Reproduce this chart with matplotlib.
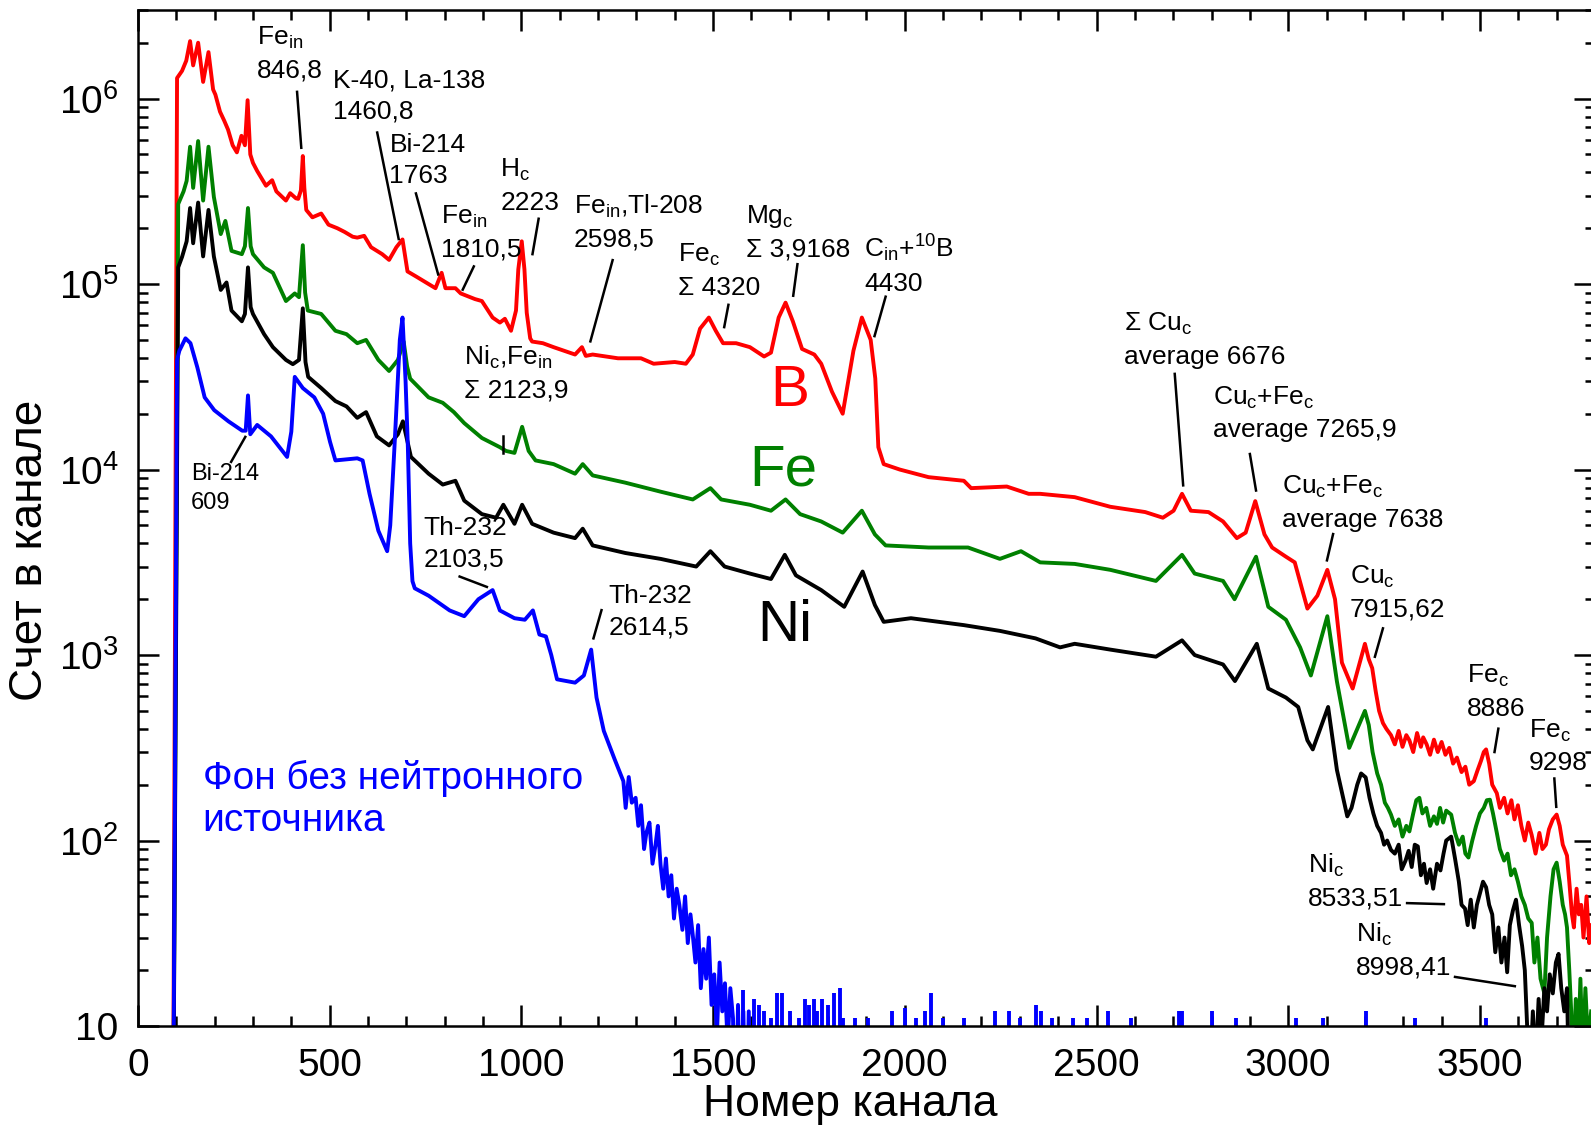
import numpy as np
import matplotlib
matplotlib.use("Agg")
import matplotlib.pyplot as plt
from matplotlib.ticker import MultipleLocator, FuncFormatter, NullFormatter, LogLocator

plt.rcParams['font.family'] = ['Liberation Sans', 'DejaVu Sans']
plt.rcParams['mathtext.fontset'] = 'custom'
plt.rcParams['mathtext.rm'] = 'Liberation Sans'
plt.rcParams['mathtext.it'] = 'Liberation Sans:italic'
plt.rcParams['mathtext.bf'] = 'Liberation Sans:bold'

# spectrum with boron sample (red)
ch_B = [91, 102, 115, 126, 136, 144, 157, 170, 184, 196, 202, 214, 225, 235, 247, 258, 270, 279, 286, 293,
        300, 311, 334, 350, 361, 386, 397, 412, 418, 425, 430, 434, 439, 455, 478, 497, 520, 539, 560, 572,
        590, 608, 637, 655, 674, 690, 703, 725, 758, 776, 792, 802, 828, 842, 860, 879, 897, 925, 944, 957,
        973, 986, 992, 1001, 1008, 1014, 1023, 1028, 1056, 1084, 1140, 1158, 1168, 1186, 1252, 1312, 1345, 1400, 1429, 1447,
        1466, 1489, 1507, 1526, 1560, 1596, 1633, 1651, 1671, 1689, 1708, 1732, 1764, 1782, 1810, 1838, 1866, 1888, 1911, 1923,
        1931, 1945, 1987, 2062, 2154, 2173, 2266, 2323, 2353, 2443, 2536, 2627, 2673, 2701, 2723, 2746, 2792, 2830, 2866, 2889,
        2914, 2938, 2958, 2994, 3017, 3050, 3076, 3102, 3122, 3140, 3168, 3200, 3210, 3219, 3228, 3237, 3247, 3256, 3268, 3278,
        3288, 3298, 3308, 3316, 3326, 3336, 3346, 3352, 3361, 3370, 3380, 3390, 3400, 3410, 3420, 3430, 3440, 3452, 3462, 3472,
        3484, 3494, 3503, 3510, 3516, 3524, 3532, 3544, 3552, 3563, 3572, 3582, 3590, 3599, 3608, 3617, 3626, 3635, 3645, 3655,
        3663, 3672, 3680, 3690, 3700, 3708, 3716, 3727, 3733, 3740, 3745, 3752, 3758, 3764, 3770, 3778, 3785, 3792]
cnt_B = [1, 1.29e6, 1.41e6, 1.6e6, 2.04e6, 1.51e6, 2.0e6, 1.23e6, 1.78e6, 1.12e6, 1.05e6, 8.5e5, 7.6e5, 6.8e5, 5.6e5, 5.13e5, 6.3e5, 5.6e5, 9.8e5, 5.0e5,
         4.5e5, 4.07e5, 3.39e5, 3.63e5, 3.16e5, 2.82e5, 3.09e5, 2.9e5, 2.88e5, 3.2e5, 4.9e5, 3.3e5, 2.51e5, 2.29e5, 2.4e5, 2.09e5, 2.0e5, 1.91e5, 1.8e5, 1.78e5,
         1.82e5, 1.58e5, 1.45e5, 1.35e5, 1.58e5, 1.74e5, 1.17e5, 1.10e5, 1.0e5, 9.5e4, 1.15e5, 9.5e4, 9.5e4, 8.9e4, 8.6e4, 8.3e4, 8.1e4, 6.6e4, 6.2e4, 6.5e4,
         5.6e4, 7.2e4, 1.2e5, 1.7e5, 1.2e5, 7.0e4, 5.1e4, 4.9e4, 4.8e4, 4.57e4, 4.17e4, 4.57e4, 4.1e4, 4.17e4, 3.98e4, 3.98e4, 3.72e4, 3.8e4, 3.72e4, 4.17e4,
         5.75e4, 6.6e4, 5.6e4, 4.8e4, 4.8e4, 4.57e4, 4.07e4, 4.27e4, 6.6e4, 7.94e4, 6.3e4, 4.47e4, 4.17e4, 3.72e4, 2.63e4, 2.0e4, 4.37e4, 6.6e4, 5.0e4, 3.1e4,
         1.32e4, 1.07e4, 1.0e4, 9.1e3, 8.7e3, 7.94e3, 8.1e3, 7.4e3, 7.4e3, 7.1e3, 6.3e3, 5.9e3, 5.5e3, 6.0e3, 7.4e3, 6.0e3, 5.9e3, 5.25e3, 4.27e3, 4.57e3,
         6.76e3, 4.47e3, 3.8e3, 3.39e3, 3.16e3, 1.78e3, 2.09e3, 2.88e3, 2.0e3, 9.1e2, 6.6e2, 1.15e3, 9.5e2, 8.5e2, 6.4e2, 5.0e2, 4.3e2, 4.0e2, 3.7e2, 3.3e2,
         3.9e2, 3.2e2, 3.7e2, 3.47e2, 3.0e2, 3.8e2, 3.2e2, 3.6e2, 3.3e2, 2.9e2, 3.5e2, 3.0e2, 3.4e2, 2.9e2, 3.16e2, 2.6e2, 2.8e2, 2.34e2, 2.5e2, 2.0e2,
         2.09e2, 2.4e2, 2.7e2, 3.0e2, 3.1e2, 2.6e2, 2.0e2, 1.8e2, 1.5e2, 1.7e2, 1.4e2, 1.65e2, 1.3e2, 1.55e2, 1.2e2, 1.0e2, 1.25e2, 1.07e2, 85, 110,
         90, 95, 115, 130, 138, 120, 95, 83, 60, 40, 34, 55, 40, 45, 30, 50, 28, 35]

# spectrum with iron sample (green)
ch_Fe = [91, 105, 119, 127, 136, 144, 157, 170, 184, 198, 216, 228, 244, 271, 279, 287, 294, 300, 329, 352,
         386, 409, 420, 430, 436, 443, 478, 515, 544, 572, 595, 627, 655, 678, 693, 702, 710, 758, 795, 824,
         851, 897, 944, 960, 982, 1002, 1019, 1037, 1084, 1140, 1160, 1186, 1271, 1363, 1447, 1493, 1521, 1596, 1651, 1689,
         1727, 1782, 1838, 1888, 1922, 1950, 2062, 2165, 2248, 2303, 2353, 2443, 2536, 2655, 2723, 2756, 2830, 2860, 2916, 2948,
         2994, 3031, 3059, 3102, 3127, 3159, 3200, 3210, 3220, 3232, 3242, 3252, 3260, 3268, 3278, 3288, 3298, 3308, 3316, 3326,
         3334, 3342, 3350, 3360, 3370, 3380, 3388, 3396, 3404, 3412, 3425, 3435, 3445, 3455, 3462, 3470, 3480, 3490, 3500, 3510,
         3518, 3526, 3534, 3544, 3552, 3563, 3572, 3581, 3590, 3599, 3608, 3617, 3626, 3635, 3642, 3650, 3658, 3668, 3675, 3684,
         3692, 3700, 3708, 3716, 3722, 3727, 3733, 3738, 3742, 3750, 3755, 3762, 3768, 3775, 3782, 3790]
cnt_Fe = [1, 2.7e5, 3.16e5, 3.6e5, 5.5e5, 3.3e5, 5.9e5, 2.82e5, 5.5e5, 2.95e5, 1.86e5, 2.19e5, 1.51e5, 1.45e5, 1.6e5, 2.57e5, 1.6e5, 1.45e5, 1.23e5, 1.15e5,
          8.1e4, 8.9e4, 8.5e4, 1.62e5, 9.0e4, 7.2e4, 6.9e4, 5.6e4, 5.37e4, 4.8e4, 5.0e4, 3.9e4, 3.4e4, 3.9e4, 4.9e4, 3.6e4, 3.09e4, 2.45e4, 2.29e4, 2.04e4,
          1.78e4, 1.48e4, 1.32e4, 1.26e4, 1.23e4, 1.7e4, 1.26e4, 1.12e4, 1.07e4, 9.5e3, 1.07e4, 9.3e3, 8.5e3, 7.6e3, 6.9e3, 7.94e3, 6.9e3, 6.46e3, 6.0e3, 6.9e3,
          5.75e3, 5.25e3, 4.57e3, 6.0e3, 4.47e3, 3.9e3, 3.8e3, 3.8e3, 3.3e3, 3.63e3, 3.16e3, 3.1e3, 2.88e3, 2.51e3, 3.47e3, 2.75e3, 2.51e3, 2.0e3, 3.39e3, 1.82e3,
          1.55e3, 1.1e3, 7.76e2, 1.62e3, 7.2e2, 3.16e2, 5.0e2, 4.2e2, 3.0e2, 2.3e2, 2.0e2, 1.6e2, 1.5e2, 1.38e2, 1.2e2, 1.3e2, 1.05e2, 1.2e2, 1.12e2, 1.4e2,
          1.65e2, 1.7e2, 1.4e2, 1.5e2, 1.2e2, 1.35e2, 1.23e2, 1.5e2, 1.25e2, 1.45e2, 1.38e2, 1.1e2, 95, 105, 85, 81, 100, 120, 140, 150,
          165, 166, 140, 110, 90, 78, 85, 65, 70, 60, 50, 45, 38, 36, 22, 30, 18, 15, 30, 50,
          70, 76, 60, 45, 40, 34, 20, 12, 5, 14, 6, 18, 7, 16, 8, 12]

# spectrum with nickel sample (black)
ch_Ni = [91, 105, 115, 127, 136, 144, 157, 170, 184, 198, 216, 231, 244, 271, 279, 287, 294, 300, 329, 352,
         386, 404, 420, 430, 437, 444, 478, 515, 544, 572, 595, 623, 655, 678, 691, 712, 758, 795, 828, 851,
         897, 934, 953, 982, 1002, 1028, 1084, 1140, 1160, 1186, 1271, 1363, 1456, 1493, 1530, 1596, 1651, 1687, 1716, 1782,
         1842, 1890, 1922, 1945, 2016, 2154, 2248, 2341, 2405, 2443, 2536, 2655, 2723, 2756, 2830, 2861, 2918, 2948, 2994, 3026,
         3050, 3064, 3104, 3127, 3154, 3165, 3180, 3190, 3202, 3212, 3222, 3232, 3242, 3250, 3258, 3268, 3278, 3288, 3296, 3306,
         3314, 3322, 3330, 3338, 3346, 3354, 3361, 3370, 3378, 3388, 3397, 3405, 3412, 3425, 3435, 3445, 3452, 3461, 3468, 3476,
         3484, 3492, 3500, 3508, 3516, 3524, 3532, 3540, 3548, 3556, 3564, 3571, 3578, 3586, 3594, 3602, 3610, 3617, 3624, 3630,
         3638, 3645, 3653, 3660, 3668, 3675, 3682, 3690, 3698, 3705, 3712, 3720, 3727, 3732]
cnt_Ni = [1, 1.23e5, 1.4e5, 1.7e5, 2.57e5, 1.66e5, 2.75e5, 1.41e5, 2.51e5, 1.41e5, 9.3e4, 1.02e5, 7.2e4, 6.3e4, 6.9e4, 1.23e5, 7.5e4, 6.9e4, 5.37e4, 4.57e4,
          3.9e4, 3.7e4, 3.9e4, 7.4e4, 3.8e4, 3.16e4, 2.75e4, 2.34e4, 2.19e4, 1.9e4, 2.04e4, 1.51e4, 1.35e4, 1.55e4, 1.82e4, 1.17e4, 9.5e3, 8.3e3, 8.7e3, 6.8e3,
          5.75e3, 5.5e3, 6.46e3, 5.1e3, 6.46e3, 5.1e3, 4.57e3, 4.27e3, 4.8e3, 3.9e3, 3.55e3, 3.3e3, 3.0e3, 3.63e3, 3.0e3, 2.75e3, 2.57e3, 3.47e3, 2.69e3, 2.24e3,
          1.82e3, 2.82e3, 1.86e3, 1.51e3, 1.58e3, 1.45e3, 1.35e3, 1.23e3, 1.1e3, 1.15e3, 1.07e3, 9.8e2, 1.2e3, 1.0e3, 8.9e2, 7.24e2, 1.15e3, 6.6e2, 5.9e2, 5.25e2,
          3.47e2, 3.1e2, 5.25e2, 2.4e2, 1.35e2, 1.5e2, 2.0e2, 2.3e2, 2.19e2, 1.7e2, 1.4e2, 1.2e2, 1.1e2, 95, 100, 89, 85, 95, 70, 78,
          88, 72, 95, 93, 65, 75, 59, 70, 55, 75, 69, 85, 100, 105, 80, 60, 45, 43, 35, 48,
          34, 45, 52, 60, 56, 45, 40, 25, 34, 22, 30, 19.5, 35, 42, 48, 35, 27, 20, 9, 5,
          12, 6, 14, 8, 16, 12, 19, 15, 22, 24.5, 16, 12, 16, 5]

# background without neutron source (blue)
ch_bg = [91, 102, 108, 124, 137, 155, 174, 199, 236, 272, 281, 287, 293, 311, 347, 389, 400, 409, 430, 460,
         483, 501, 515, 572, 586, 604, 627, 650, 658, 669, 683, 690, 698, 704, 710, 716, 722, 758, 813, 851,
         888, 925, 944, 982, 1009, 1030, 1047, 1064, 1078, 1093, 1140, 1163, 1182, 1196, 1215, 1243, 1266, 1272, 1280, 1288,
         1298, 1305, 1312, 1320, 1326, 1334, 1342, 1350, 1356, 1363, 1370, 1377, 1384, 1391, 1398, 1405, 1412, 1420, 1427, 1434,
         1441, 1447, 1454, 1461, 1468, 1475, 1482, 1489, 1496, 1503, 1510, 1517, 1524, 1531, 1538, 1545, 1552, 1558, 1565, 1572,
         1579, 1586, 1593, 1600]
cnt_bg = [1, 3.9e4, 4.37e4, 5.1e4, 4.8e4, 3.55e4, 2.45e4, 2.09e4, 1.82e4, 1.62e4, 1.62e4, 2.51e4, 1.55e4, 1.74e4, 1.51e4, 1.17e4, 1.6e4, 3.16e4, 2.75e4, 2.45e4,
          2.0e4, 1.41e4, 1.12e4, 1.15e4, 1.12e4, 7.4e3, 4.68e3, 3.63e3, 5.0e3, 1.32e4, 5.0e4, 6.6e4, 3.0e4, 1.32e4, 4.0e3, 2.5e3, 2.29e3, 2.09e3, 1.74e3, 1.62e3,
          2.0e3, 2.24e3, 1.74e3, 1.58e3, 1.55e3, 1.74e3, 1.29e3, 1.26e3, 1.0e3, 7.4e2, 7.1e2, 7.76e2, 1.07e3, 5.9e2, 3.9e2, 2.75e2, 2.09e2, 1.5e2, 2.2e2, 1.6e2,
          1.7e2, 1.2e2, 1.55e2, 90, 110, 125, 75, 95, 120, 74, 55, 80, 50, 65, 38, 55, 45, 33, 50, 28,
          40, 31, 22, 35, 16, 26, 18, 30, 13, 19, 9, 22, 12, 17, 8, 16, 11, 2, 13, 3,
          12, 2, 12, 2]

# isolated background counts in the high-energy part
spike_ch = [1578, 1606, 1620, 1633, 1652, 1666, 1680, 1700, 1725, 1741, 1750, 1763, 1772, 1783, 1800, 1815, 1832, 1840, 1870, 1905,
            1966, 2001, 2030, 2053, 2068, 2100, 2155, 2234, 2272, 2300, 2341, 2355, 2384, 2439, 2475, 2531, 2590, 2715, 2724, 2801,
            2865, 3019, 3090, 3203, 3330, 3515]
spike_cnt = [15.6, 14, 13, 12, 11, 15, 15, 12, 11, 14, 13, 14, 12, 14, 13, 15, 16, 11, 11, 11,
             12, 12.5, 11, 12, 15, 11, 11, 12, 12, 11, 13, 12, 11, 11, 11, 12, 11, 12, 12, 12,
             11, 11, 11, 12, 11, 11]

# peak labels: text, (channel, counts) of the label, leader line ends
peak_labels = [
    ('Fe$_\\mathrm{in}$\n846,8', 310, 1.74e6, (415, 1.087e6), (426, 5.43e5)),
    ('K-40, La-138\n1460,8', 508, 1.03e6, (624, 6.56e5), (680, 1.75e5)),
    ('Bi-214\n1763', 656, 4.64e5, (725, 3.08e5), (783, 1.127e5)),
    ('Fe$_\\mathrm{in}$\n1810,5', 791, 1.89e5, (876, 1.245e5), (847, 9.33e4)),
    ('H$_\\mathrm{c}$\n2223', 945, 3.39e5, (1045, 2.25e5), (1029, 1.45e5)),
    ('Fe$_\\mathrm{in}$,Tl-208\n2598,5', 1137, 2.16e5, (1238, 1.346e5), (1180, 4.91e4)),
    ('Fe$_\\mathrm{c}$\nΣ 4320', 1408, 1.18e5, (1540, 7.73e4), (1529, 5.86e4)),
    ('Mg$_\\mathrm{c}$\nΣ 3,9168', 1587, 1.90e5, (1720, 1.28e5), (1709, 8.65e4)),
    ('C$_\\mathrm{in}$+$^\\mathrm{10}$B\n4430', 1894, 1.28e5, (1950, 8.55e4), (1921, 5.24e4)),
    ('Ni$_\\mathrm{c}$,Fe$_\\mathrm{in}$\nΣ 2123,9', 850, 3.30e4, (953, 1.52e4), (953, 1.23e4)),
    ('Σ Cu$_\\mathrm{c}$\naverage 6676', 2572, 5.0e4, (2704, 3.28e4), (2726, 8.22e3)),
    ('Cu$_\\mathrm{c}$+Fe$_\\mathrm{c}$\naverage 7265,9', 2805, 2.01e4, (2900, 1.213e4), (2916, 7.71e3)),
    ('Cu$_\\mathrm{c}$+Fe$_\\mathrm{c}$\naverage 7638', 2983, 6.59e3, (3117, 4.49e3), (3101, 3.24e3)),
    ('Cu$_\\mathrm{c}$\n7915,62', 3160, 2.16e3, (3247, 1.393e3), (3226, 979)),
    ('Fe$_\\mathrm{c}$\n8886', 3467, 634, (3548, 401), (3538, 300)),
    ('Fe$_\\mathrm{c}$\n9298', 3628, 321, (3694, 216), (3699, 152)),
    ('Ni$_\\mathrm{c}$\n8533,51', 3051, 60.3, (3310, 46), (3406, 45.4)),
    ('Ni$_\\mathrm{c}$\n8998,41', 3176, 25.6, (3435, 18.4), (3591, 16.4)),
    ('Th-232\n2103,5', 744, 3.96e3, (839, 2.65e3), (910, 2.33e3)),
    ('Th-232\n2614,5', 1228, 1.71e3, (1209, 1.746e3), (1188, 1.23e3)),
]
bi_label = ('Bi-214\n609', 138, 7.87e3, (243, 1.1e4), (280, 1.5e4))

fig = plt.figure(figsize=(15.91, 11.32), dpi=100)
ax = fig.add_axes([0.0867, 0.0936, 0.9158, 0.8975])

lw = 2.8
ax.plot(ch_B, cnt_B, color='#ff0000', lw=lw)
ax.plot(ch_Fe, cnt_Fe, color='#008000', lw=lw)
ax.plot(ch_Ni, cnt_Ni, color='black', lw=lw)
ax.plot(ch_bg, cnt_bg, color='#0000ff', lw=lw)
ax.vlines(spike_ch, 1, spike_cnt, color='#0000ff', lw=lw)

ax.set_yscale('log')
ax.set_xlim(0, 3800)
ax.set_ylim(10, 3e6)

# axis ticks
ax.xaxis.set_major_locator(MultipleLocator(500))
ax.xaxis.set_minor_locator(MultipleLocator(100))
ax.yaxis.set_major_locator(LogLocator(base=10, numticks=20))
ax.yaxis.set_minor_locator(LogLocator(base=10, subs=np.arange(2, 10), numticks=20))
ax.yaxis.set_major_formatter(FuncFormatter(
    lambda v, p: '10' if abs(v - 10) < 1e-6 else '$\\mathdefault{10^{%d}}$' % round(np.log10(v))))
ax.yaxis.set_minor_formatter(NullFormatter())
ax.tick_params(which='both', direction='in', top=True, right=True, width=1.8)
ax.tick_params(which='major', length=15, labelsize=28)
ax.tick_params(axis='x', which='major', pad=16)
ax.tick_params(axis='y', which='major', pad=14)
ax.tick_params(which='minor', length=7.5)
for s in ax.spines.values():
    s.set_linewidth(1.8)

ax.set_xlabel('Номер канала', fontsize=32, va='center')
ax.xaxis.set_label_coords(0.489, -0.077)
ax.set_ylabel('Счет в канале', fontsize=33, va='center')
ax.yaxis.set_label_coords(-0.074, 0.468)

# peak labels with leader lines
for txt, x, y, p1, p2 in peak_labels:
    ax.text(x, y, txt, fontsize=19, ha='left', va='center', linespacing=1.4)
    ax.plot([p1[0], p2[0]], [p1[1], p2[1]], color='black', lw=1.8)
txt, x, y, p1, p2 = bi_label
ax.text(x, y, txt, fontsize=17, ha='left', va='center', linespacing=1.4)
ax.plot([p1[0], p2[0]], [p1[1], p2[1]], color='black', lw=1.8)

# sample names
ax.text(1701, 2.65e4, 'B', fontsize=42, color='#ff0000', ha='center', va='center')
ax.text(1683, 9.93e3, 'Fe', fontsize=42, color='#008000', ha='center', va='center')
ax.text(1686, 1.43e3, 'Ni', fontsize=42, color='black', ha='center', va='center')
ax.text(169, 166, 'Фон без нейтронного\nисточника', fontsize=28, color='#0000ff',
        ha='left', va='center', linespacing=1.2)

plt.savefig('out.png', dpi=100)
